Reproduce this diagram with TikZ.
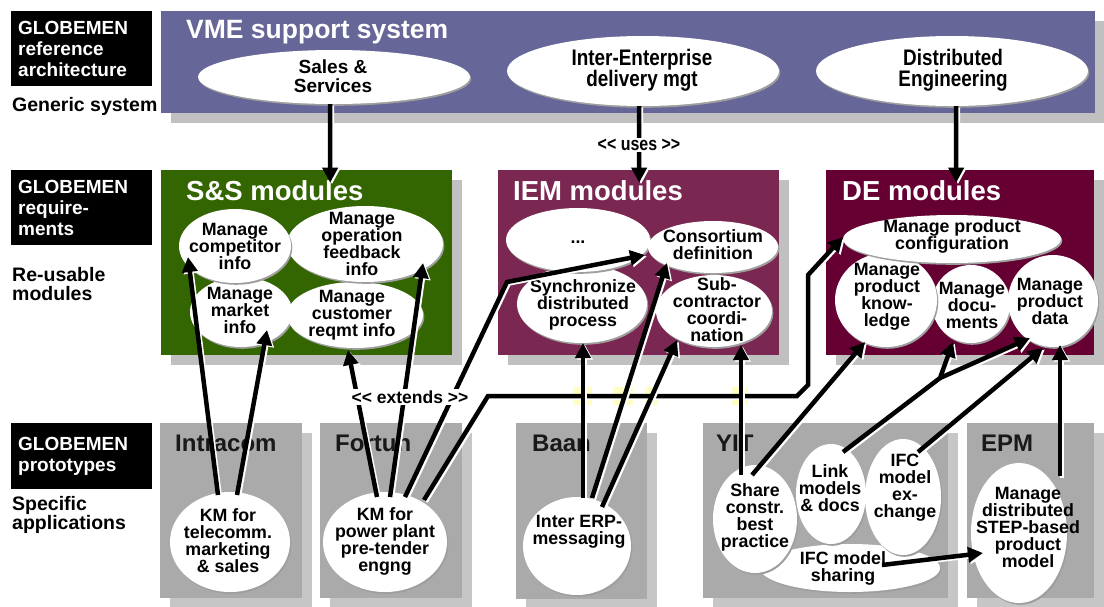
\documentclass[tikz,border=0pt]{standalone}
\usepackage{fontspec}
\setmainfont{Liberation Sans}
\newfontfamily\narrowfont[FakeStretch=0.84]{Liberation Sans}
\usetikzlibrary{shapes.geometric,arrows.meta}
\definecolor{vme}{RGB}{102,102,153}
\definecolor{ssg}{RGB}{51,102,0}
\definecolor{iem}{RGB}{122,40,82}
\definecolor{dem}{RGB}{102,0,51}
\definecolor{shd}{RGB}{192,192,192}
\definecolor{proto}{RGB}{170,170,170}
\definecolor{protoshd}{RGB}{198,198,198}
\definecolor{pale}{RGB}{255,255,196}
\tikzset{
  bigtip/.tip={Triangle[length=15pt,width=15pt]},
  arr/.style={draw=black, line width=4.5pt, -bigtip,
    preaction={draw=white, line width=4.5pt, -bigtip, transform canvas={shift={(1.8pt,-1.5pt)}}}},
  boxshade/.style={preaction={fill=#1, transform canvas={shift={(10pt,-10pt)}}}},
  region/.style={rectangle, inner sep=0pt, anchor=north west, draw=none},
  oval/.style={ellipse, fill=white, inner sep=0pt, outer sep=0pt,
    preaction={fill=black!38, transform canvas={shift={(1.3pt,-1.8pt)}}}},
  lab/.style={align=center, inner sep=0pt, font=\fontsize{17.8}{17}\selectfont\bfseries},
  bigtitle/.style={anchor=base west, inner sep=0pt, text=white, font=\fontsize{27.5}{30}\selectfont\bfseries},
  ptitle/.style={anchor=base west, inner sep=0pt, text=black!90, font=\fontsize{24}{26}\selectfont\bfseries},
  tagbox/.style={region, fill=black, text=white, minimum width=141pt, align=left, text width=127pt, inner xsep=7pt, font=\fontsize{19}{21}\selectfont\bfseries},
  side/.style={anchor=north west, inner sep=0pt, align=left, font=\fontsize{19.5}{19}\selectfont\bfseries},
  stereo/.style={fill=white, inner sep=1.5pt, font=\fontsize{17.5}{18}\selectfont\bfseries},
}
\begin{document}
\begin{tikzpicture}[x=1pt,y=-1pt]
\fill[white] (0,0) rectangle (1104,606);
\useasboundingbox (0,0) rectangle (1104,606);

% ---------- left tags ----------
\node[tagbox, minimum height=75pt] (tagref) at (11,11) {GLOBEMEN\\reference\\architecture};
\node[tagbox, minimum height=75pt] (tagreq) at (11,170) {GLOBEMEN\\require-\\ments};
\node[tagbox, minimum height=66pt] (tagproto) at (11,423) {GLOBEMEN\\prototypes};
\node[side] (gen) at (12,97) {Generic system};
\node[side] (reuse) at (12,267) {Re-usable\\modules};
\node[side] (spec) at (12,496) {Specific\\applications};

% ---------- VME ----------
\node[region, boxshade=shd, fill=vme, minimum width=934pt, minimum height=102pt] (vmebox) at (161,11) {};
\node[bigtitle, font=\fontsize{26.5}{30}\selectfont\bfseries] (vmetitle) at (186,38) {VME support system};
\node[oval, minimum width=272pt, minimum height=54pt,
  label={[lab, shift={(-1,-1)}, font=\fontsize{19}{19}\selectfont\bfseries]center:{Sales \&\\Services}}] (sales) at (334,77) {};
\node[oval, minimum width=272pt, minimum height=70pt,
  label={[lab, shift={(-1,-1)}, font=\narrowfont\fontsize{22.5}{21}\selectfont\bfseries]center:{Inter-Enterprise\\delivery mgt}}] (inter) at (643,71) {};
\node[oval, minimum width=272pt, minimum height=70pt,
  label={[lab, shift={(1,-1)}, font=\narrowfont\fontsize{22.5}{21}\selectfont\bfseries]center:{Distributed\\Engineering}}] (dist) at (952,71) {};

% ---------- S&S modules ----------
\node[region, boxshade=shd, fill=ssg, minimum width=291pt, minimum height=185pt] (ssbox) at (161,170) {};
\node[bigtitle] (sstitle) at (186,200) {S\&S modules};
\node[oval, minimum width=102pt, minimum height=70pt, label={[lab, shift={(-1,-2)}]center:{Manage\\market\\info}}] (market) at (241,312) {};
\node[oval, minimum width=136pt, minimum height=66pt, label={[lab, shift={(-3,0)}]center:{Manage\\customer\\reqmt info}}] (cust) at (355,315) {};
\node[oval, minimum width=156pt, minimum height=76pt, label={[lab, shift={(-3,0)}]center:{Manage\\operation\\feedback\\info}}] (oper) at (365,244) {};
\node[oval, minimum width=112pt, minimum height=74pt, label={[lab]center:{Manage\\competitor\\info}}] (comp) at (235,246) {};

% ---------- IEM modules ----------
\node[region, boxshade=shd, fill=iem, minimum width=281pt, minimum height=185pt] (iembox) at (498,170) {};
\node[bigtitle] (iemtitle) at (513,200) {IEM modules};
\node[oval, minimum width=130pt, minimum height=78pt, label={[lab, shift={(1,1)}]center:{Synchronize\\distributed\\process}}] (sync) at (582,304) {};
\node[oval, minimum width=116pt, minimum height=72pt, label={[lab, shift={(3,-1)}]center:{Sub-\\contractor\\coordi-\\nation}}] (sub) at (714,311) {};
\node[oval, minimum width=144pt, minimum height=64pt, label={[lab, shift={(0,2)}]center:{...}}] (dots) at (578,240) {};
\node[oval, minimum width=130pt, minimum height=52pt, label={[lab, shift={(0,-2)}]center:{Consortium\\definition}}] (cons) at (713,247) {};

% ---------- DE modules ----------
\node[region, boxshade=shd, fill=dem, minimum width=268pt, minimum height=185pt] (debox) at (826,170) {};
\node[bigtitle] (detitle) at (842,200) {DE modules};
\node[oval, minimum width=78pt, minimum height=78pt, label={[lab, shift={(1,1)}]center:{Manage\\docu-\\ments}}] (docs) at (971,304) {};
\node[oval, minimum width=102pt, minimum height=94pt, label={[lab, shift={(1,-3)}]center:{Manage\\product\\know-\\ledge}}] (know) at (886,300) {};
\node[oval, minimum width=90pt, minimum height=92pt, label={[lab, shift={(-3,0)}]center:{Manage\\product\\data}}] (data) at (1053,301) {};
\node[oval, minimum width=218pt, minimum height=48pt, label={[lab, shift={(0,-3)}]center:{Manage product\\configuration}}] (config) at (952,239) {};

% ---------- prototypes ----------
\node[region, boxshade=protoshd, fill=proto, minimum width=142pt, minimum height=175pt] (intrabox) at (160,423) {};
\node[ptitle] (intratitle) at (175,451) {Intracom};
\node[oval, minimum width=120pt, minimum height=100pt, label={[lab, shift={(-2,-1)}]center:{KM for\\telecomm.\\marketing\\\& sales}}] (km1) at (230,542) {};

\node[region, boxshade=protoshd, fill=proto, minimum width=142pt, minimum height=175pt] (fortbox) at (320,423) {};
\node[ptitle] (forttitle) at (335,451) {Fortun};
\node[oval, minimum width=124pt, minimum height=100pt, label={[lab, shift={(0,-1)}]center:{KM for\\power plant\\pre-tender\\engng}}] (km2) at (385,542) {};

\node[region, boxshade=protoshd, fill=proto, minimum width=131pt, minimum height=176pt] (baanbox) at (516,423) {};
\node[ptitle] (baantitle) at (532,451) {Baan};
\node[oval, minimum width=108pt, minimum height=98pt, label={[lab, shift={(2,-14)}]center:{Inter ERP-\\messaging}}] (erp) at (577,546) {};

\node[region, boxshade=protoshd, fill=proto, minimum width=245pt, minimum height=175pt] (yitbox) at (703,423) {};
\node[ptitle] (yittitle) at (716,451) {YIT};
\node[oval, minimum width=180pt, minimum height=48pt, label={[lab, shift={(-7,0)}]center:{IFC model\\sharing}}] (ifcs) at (850,568) {};
\node[oval, minimum width=70pt, minimum height=100pt, label={[lab, shift={(-1,-6)}]center:{Link\\models\\\& docs}}] (link) at (831,494) {};
\node[oval, minimum width=76pt, minimum height=116pt, label={[lab, shift={(2,-9)}]center:{IFC\\model\\ex-\\change}}] (ifcx) at (903,497) {};
\node[oval, minimum width=84pt, minimum height=108pt, label={[lab, shift={(0,-2)}]center:{Share\\constr.\\best\\practice}}] (share) at (755,519) {};

\node[region, boxshade=protoshd, fill=proto, minimum width=127pt, minimum height=175pt] (epmbox) at (967,423) {};
\node[ptitle] (epmtitle) at (981,451) {EPM};
\node[oval, minimum width=96pt, minimum height=140pt, label={[lab, shift={(9,-6)}]center:{Manage\\distributed\\STEP-based\\product\\model}}] (step) at (1019,533) {};

% ---------- crossing marks ----------
\fill[pale] (573,387) rectangle (592,405);
\fill[pale] (613,387) rectangle (633,405);
\fill[pale] (645,387) rectangle (658,405);
\fill[pale] (732,387) rectangle (748,405);

% ---------- connectors ----------
\draw[arr] ([shift={(-4,27)}]sales.center) -- ([shift={(23.5,-80)}]ssbox.center);
\draw[arr] ([shift={(-4,35)}]inter.center) -- ([shift={(0.5,-80)}]iembox.center);
\draw[arr] ([shift={(4,35)}]dist.center) -- ([shift={(-4,-80)}]debox.center);

\draw[arr] ([shift={(-12,-47)}]km1.center) -- ([shift={(-47,11)}]comp.center);
\draw[arr] ([shift={(7,-47)}]km1.center) -- ([shift={(26,18)}]market.center);
\draw[arr] ([shift={(-8,-45)}]km2.center) -- ([shift={(-7,35)}]cust.center);
\draw[arr] ([shift={(5,-45)}]km2.center) -- ([shift={(58,19)}]oper.center);
\coordinate (b8) at (507,282);
\draw[arr] ([shift={(20,-45)}]km2.center) -- (b8) -- ([shift={(-68,8)}]cons.center);
\coordinate (b9a) at (488,396);
\coordinate (b9b) at (797,396);
\coordinate (b9c) at (808,385);
\coordinate (b9d) at (808,275);
\draw[arr] ([shift={(39,-42)}]km2.center) -- (b9a) -- (b9b) -- (b9c) -- (b9d) -- ([shift={(-109,-2)}]config.center);

\draw[arr] ([shift={(6,-48)}]erp.center) -- ([shift={(1,39)}]sync.center);
\draw[arr] ([shift={(15,-48)}]erp.center) -- ([shift={(-46,16)}]cons.center);
\draw[arr] ([shift={(25,-39)}]erp.center) -- ([shift={(-37,29)}]sub.center);

\draw[arr] ([shift={(-14,-44)}]share.center) -- ([shift={(27,34)}]sub.center);
\draw[arr] ([shift={(-3,-44)}]share.center) -- ([shift={(-21,42)}]know.center);
\coordinate (j) at (940,378);
\draw[arr] ([shift={(12,-42)}]link.center) -- (j) -- ([shift={(-18,38)}]docs.center);
\draw[arr] (j) -- ([shift={(-23,37)}]data.center);
\draw[arr] ([shift={(15,-45)}]ifcx.center) -- ([shift={(-10,47)}]data.center);
\draw[arr] ([shift={(41,-57)}]step.center) -- ([shift={(7,44)}]data.center);
\draw[arr] ([shift={(32,-3)}]ifcs.center) -- ([shift={(-36,20)}]step.center);

% ---------- stereotype labels ----------
\node[stereo, font=\narrowfont\fontsize{19}{20}\selectfont\bfseries] (uses) at (639,145) {<{}< uses >{}>};
\node[stereo] (extends) at (410,397) {<{}< extends >{}>};
\end{tikzpicture}
\end{document}
